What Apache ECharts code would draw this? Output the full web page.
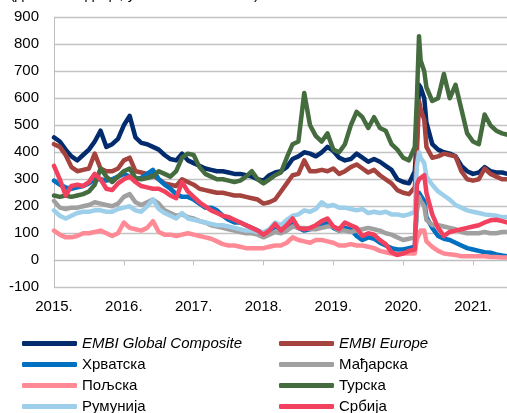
<!DOCTYPE html>
<html>
<head>
<meta charset="utf-8">
<script src="https://cdn.jsdelivr.net/npm/echarts@6/dist/echarts.min.js"></script>
<style>
  html, body { margin: 0; padding: 0; background: #fff; }
  #chart { width: 507px; height: 413px; }
</style>
</head>
<body>
<div id="chart"></div>
<script>
// месечне тачке (1. у месецу), са гушћим тачкама у марту/априлу 2020.
const extraDates = {
  '2020-03': ['2020-03-01', '2020-03-12', '2020-03-23'],
  '2020-04': ['2020-04-01', '2020-04-20']
}
const dates = []
for (let y = 2015; y <= 2021; y++) {
  for (let m = 1; m <= 12; m++) {
    if (y === 2021 && m > 6) break
    const key = y + '-' + String(m).padStart(2, '0')
    if (extraDates[key]) dates.push(...extraDates[key])
    else dates.push(key + '-01')
  }
}
dates.push('2021-06-30')

const yearTicks = ['2015.', '2016.', '2017.', '2018.', '2019.', '2020.', '2021.']

const embiGlobal = [
  455, 440, 410, 385, 370, 390, 410, 440, 480, 420, 430, 450,
  500, 535, 455, 435, 430, 420, 410, 390, 375, 370, 395, 370,
  360, 350, 340, 335, 330, 330, 325, 320, 320, 315, 310, 300,
  295, 315, 325, 330, 345, 375, 385, 400, 395, 385, 400, 420,
  405, 380, 370, 375, 395, 380, 365, 375, 365, 350, 335, 300,
  290, 285, 330, 450, 650, 640, 600, 510, 430, 410, 400, 395, 385, 350, 330,
  320, 325, 345, 330, 325, 325, 320
]
const embiEurope = [
  430, 420, 390, 345, 330, 335, 340, 395, 340, 330, 330, 340,
  370, 380, 330, 325, 320, 315, 300, 285, 280, 275, 300, 290,
  280, 265, 260, 255, 250, 250, 245, 240, 240, 235, 230, 225,
  210, 215, 225, 255, 285, 315, 320, 370, 330, 330, 335, 330,
  340, 320, 330, 345, 355, 340, 325, 335, 315, 300, 285, 260,
  250, 245, 270, 400, 590, 560, 520, 420, 380, 385, 395, 390, 385, 330, 300,
  295, 300, 340, 320, 310, 300, 300
]
const croatia = [
  295, 280, 270, 265, 270, 275, 285, 300, 300, 295, 300, 310,
  320, 310, 300, 305, 320, 335, 300, 280, 265, 245, 235, 235,
  225, 210, 195, 195, 185, 165, 150, 140, 140, 130, 120, 110,
  100, 110, 125, 115, 125, 145, 120, 110, 115, 125, 135, 140,
  120, 110, 120, 115, 90, 75, 85, 80, 65, 55, 45, 40,
  40, 45, 50, 200, 250, 240, 220, 160, 120, 90, 80, 75, 65, 55, 45,
  40, 35, 30, 28, 22, 18, 15
]
const hungary = [
  220, 195, 190, 195, 195, 200, 205, 215, 210, 205, 200, 210,
  235, 245, 215, 205, 215, 225, 210, 185, 175, 165, 170, 160,
  155, 145, 140, 130, 125, 120, 115, 110, 105, 100, 100, 95,
  85, 95, 105, 100, 110, 125, 120, 120, 115, 115, 120, 125,
  125, 110, 110, 105, 110, 115, 120, 115, 110, 100, 95, 85,
  75, 80, 85, 180, 235, 220, 200, 150, 130, 130, 125, 120, 115, 105, 100,
  100, 100, 105, 100, 100, 105, 105
]
const poland = [
  110, 95, 85, 85, 90, 100, 100, 105, 110, 100, 90, 100,
  140, 120, 115, 110, 120, 145, 105, 95, 95, 90, 95, 100,
  95, 90, 85, 80, 70, 60, 55, 55, 50, 45, 45, 45,
  45, 50, 55, 55, 65, 85, 75, 70, 65, 75, 75, 70,
  65, 55, 55, 60, 55, 55, 50, 45, 35, 30, 25, 20,
  25, 25, 25, 80, 95, 110, 110, 70, 50, 35, 25, 22, 20, 15, 15,
  15, 15, 15, 12, 12, 10, 10
]
const turkey = [
  240, 235, 240, 235, 240, 245, 255, 280, 340, 310, 290, 310,
  330, 340, 305, 300, 305, 310, 330, 320, 310, 330, 380, 395,
  390, 345, 320, 310, 300, 300, 295, 290, 295, 310, 330, 300,
  285, 300, 315, 325, 380, 430, 440, 620, 500, 460, 440, 470,
  410, 400, 430, 500, 550, 530, 490, 530, 490, 480, 430, 410,
  380, 370, 420, 600, 830, 740, 700, 640, 590, 600, 690, 600, 650, 560, 470,
  440, 430, 540, 500, 480, 470, 465
]
const romania = [
  185, 165, 155, 165, 175, 180, 180, 185, 185, 180, 180, 190,
  195, 200, 185, 180, 200, 225, 190, 175, 165, 155, 175, 155,
  150, 145, 140, 135, 130, 130, 125, 120, 115, 110, 110, 105,
  105, 115, 140, 130, 150, 165, 170, 185, 180, 190, 215, 200,
  205, 195, 195, 190, 185, 190, 175, 180, 175, 180, 170, 170,
  165, 170, 180, 350, 400, 380, 360, 310, 280, 255, 240, 225, 205, 195, 185,
  180, 175, 170, 168, 165, 160, 160
]
const serbia = [
  350, 300, 240, 275, 280, 275, 290, 320, 300, 265, 260, 285,
  300, 310, 290, 275, 270, 265, 265, 255, 240, 230, 290, 255,
  235, 215, 200, 185, 175, 165, 160, 150, 140, 130, 120, 110,
  95, 110, 135, 110, 130, 155, 120, 115, 120, 130, 145, 155,
  125, 115, 140, 130, 120, 90, 100, 95, 75, 60, 30, 20,
  25, 35, 40, 280, 300, 305, 315, 250, 170, 120, 90, 105, 110, 115, 120,
  125, 130, 140, 148, 150, 145, 140
]

const seriesList = [
  { name: 'EMBI Global Composite', data: embiGlobal, color: '#022C6E' },
  { name: 'EMBI Europe', data: embiEurope, color: '#A5433F' },
  { name: 'Хрватска', data: croatia, color: '#0070C0' },
  { name: 'Мађарска', data: hungary, color: '#A0A0A0' },
  { name: 'Пољска', data: poland, color: '#FF8A95' },
  { name: 'Турска', data: turkey, color: '#456C3E' },
  { name: 'Румунија', data: romania, color: '#9DCFEB' },
  { name: 'Србија', data: serbia, color: '#F2415F' }
]

// датум -> година са децималом
function toYear(d) {
  const p = d.split('-').map(Number)
  return p[0] + (p[1] - 1) / 12 + (p[2] - 1) / 365
}

const font = '"Liberation Sans", Arial, sans-serif'

// легенда у две колоне, по једна ставка по компоненти
const rowTops = [336, 357, 378, 399]
const legends = seriesList.map((s, i) => ({
  left: i % 2 === 0 ? 22 : 279,
  top: rowTops[Math.floor(i / 2)],
  padding: 0,
  itemWidth: 55,
  itemHeight: 5,
  icon: 'roundRect',
  data: [s.name],
  formatter: name => name.indexOf('EMBI') === 0 ? '{i|' + name + '}' : '{n|' + name + '}',
  textStyle: {
    color: '#000',
    fontFamily: font,
    fontSize: 15,
    rich: {
      i: { fontStyle: 'italic', fontSize: 15, fontFamily: font, color: '#000', lineHeight: 15 },
      n: { fontSize: 15, fontFamily: font, color: '#000', lineHeight: 15 }
    }
  }
}))

const chart = echarts.init(document.getElementById('chart'))
chart.setOption({
  animation: false,
  backgroundColor: '#fff',
  graphic: [{
    type: 'text', left: 10, top: -13,
    style: { text: '(дневни подаци, у базним поенима)', fontSize: 15, fontFamily: font, fill: '#000' }
  }],
  grid: { left: 54, right: 0, top: 17.3, bottom: 125.7 },
  legend: legends,
  xAxis: {
    type: 'value',
    min: 2015,
    max: 2021.487,
    interval: 1,
    axisLine: { show: true, lineStyle: { color: '#BFBFBF', width: 1 } },
    axisTick: { show: true, length: 5, lineStyle: { color: '#BFBFBF' } },
    splitLine: { show: false },
    axisLabel: {
      margin: 12,
      color: '#000',
      fontFamily: font,
      fontSize: 15,
      showMaxLabel: false,
      formatter: v => Number.isInteger(v) ? yearTicks[v - 2015] : ''
    }
  },
  yAxis: {
    type: 'value',
    min: -100,
    max: 900,
    interval: 100,
    axisLine: { show: true, lineStyle: { color: '#BFBFBF', width: 1 } },
    axisTick: { show: false },
    splitLine: { show: true, lineStyle: { color: '#C3C3C3', width: 1.3 } },
    axisLabel: { margin: 15, color: '#000', fontFamily: font, fontSize: 15 }
  },
  series: seriesList.map(s => ({
    name: s.name,
    type: 'line',
    symbol: 'none',
    color: s.color,
    lineStyle: { width: 4.5, color: s.color, cap: 'round', join: 'round' },
    data: dates.map((d, i) => [toYear(d), s.data[i]])
  }))
})
</script>
</body>
</html>
